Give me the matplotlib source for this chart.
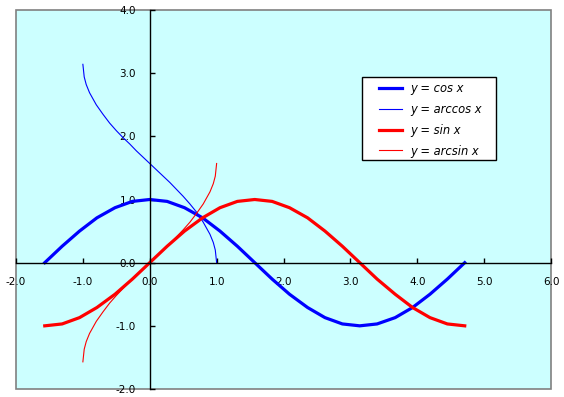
import numpy as np
import matplotlib.pyplot as plt
from matplotlib.patches import Rectangle

# data
x_trig = [-1.57, -1.31, -1.05, -0.79, -0.52, -0.26, 0.0, 0.26, 0.52, 0.79, 1.05, 1.31, 1.57,
          1.83, 2.09, 2.36, 2.62, 2.88, 3.14, 3.40, 3.67, 3.93, 4.19, 4.45, 4.71]
y_cos = [0.0, 0.26, 0.50, 0.71, 0.87, 0.97, 1.0, 0.97, 0.87, 0.71, 0.50, 0.26, 0.0,
         -0.26, -0.50, -0.71, -0.87, -0.97, -1.0, -0.97, -0.87, -0.71, -0.50, -0.26, 0.0]
y_sin = [-1.0, -0.97, -0.87, -0.71, -0.50, -0.26, 0.0, 0.26, 0.50, 0.71, 0.87, 0.97, 1.0,
         0.97, 0.87, 0.71, 0.50, 0.26, 0.0, -0.26, -0.50, -0.71, -0.87, -0.97, -1.0]

x_arc = [-1.0, -0.98, -0.95, -0.9, -0.8, -0.7, -0.6, -0.5, -0.4, -0.3, -0.2, -0.1, 0.0,
         0.1, 0.2, 0.3, 0.4, 0.5, 0.6, 0.7, 0.8, 0.9, 0.95, 0.98, 1.0]
y_arccos = [3.14, 2.94, 2.82, 2.69, 2.50, 2.35, 2.21, 2.09, 1.98, 1.88, 1.77, 1.67, 1.57,
            1.47, 1.37, 1.27, 1.16, 1.05, 0.93, 0.80, 0.64, 0.45, 0.32, 0.20, 0.0]
y_arcsin = [-1.57, -1.37, -1.25, -1.12, -0.93, -0.78, -0.64, -0.52, -0.41, -0.30, -0.20, -0.10, 0.0,
            0.10, 0.20, 0.30, 0.41, 0.52, 0.64, 0.78, 0.93, 1.12, 1.25, 1.37, 1.57]

xticks = [-2.0, -1.0, 0.0, 1.0, 2.0, 3.0, 4.0, 5.0, 6.0]
yticks = [-2.0, -1.0, 0.0, 1.0, 2.0, 3.0, 4.0]

fig = plt.figure(figsize=(5.64, 3.97), dpi=100)
ax = fig.add_axes([16/564, 8/397, 535/564, 379/397])
ax.set_facecolor('#CCFFFF')
ax.patch.set_edgecolor('#808080')
ax.patch.set_linewidth(1.2)

ax.plot(x_trig, y_cos, color='#0000FF', lw=2.3, label='y = cos x')
ax.plot(x_arc, y_arccos, color='#0000FF', lw=0.8, label='y = arccos x')
ax.plot(x_trig, y_sin, color='#FF0000', lw=2.3, label='y = sin x')
ax.plot(x_arc, y_arcsin, color='#FF0000', lw=0.8, label='y = arcsin x')

ax.set_xlim(-2, 6)
ax.set_ylim(-2, 4)
ax.spines['left'].set_position(('data', 0))
ax.spines['bottom'].set_position(('data', 0))
ax.spines['top'].set_visible(False)
ax.spines['right'].set_visible(False)
for s in ['left', 'bottom']:
    ax.spines[s].set_color('black')
    ax.spines[s].set_linewidth(1.0)

ax.set_xticks(xticks)
ax.set_yticks(yticks)
ax.set_xticklabels([f'{v:.1f}' for v in xticks])
ax.set_yticklabels([f'{v:.1f}' for v in yticks])
ax.tick_params(axis='both', direction='in', length=3.5, width=1, labelsize=7.5, pad=10)

# legend box drawn by hand, entries placed inside it
ax.add_patch(Rectangle((362/564, 1 - 160/397), 134/564, 83/397, transform=fig.transFigure,
                       facecolor='white', edgecolor='black', lw=1.0, zorder=4, clip_on=False))
leg = ax.legend(loc='upper left', bbox_to_anchor=(379/564, 1 - 82/397), bbox_transform=fig.transFigure,
                borderaxespad=0, borderpad=0, frameon=False,
                prop={'style': 'italic', 'size': 8.3}, handlelength=2.0, handletextpad=0.7,
                labelspacing=0.68)
leg.set_zorder(5)

fig.savefig('out.png', dpi=100)
